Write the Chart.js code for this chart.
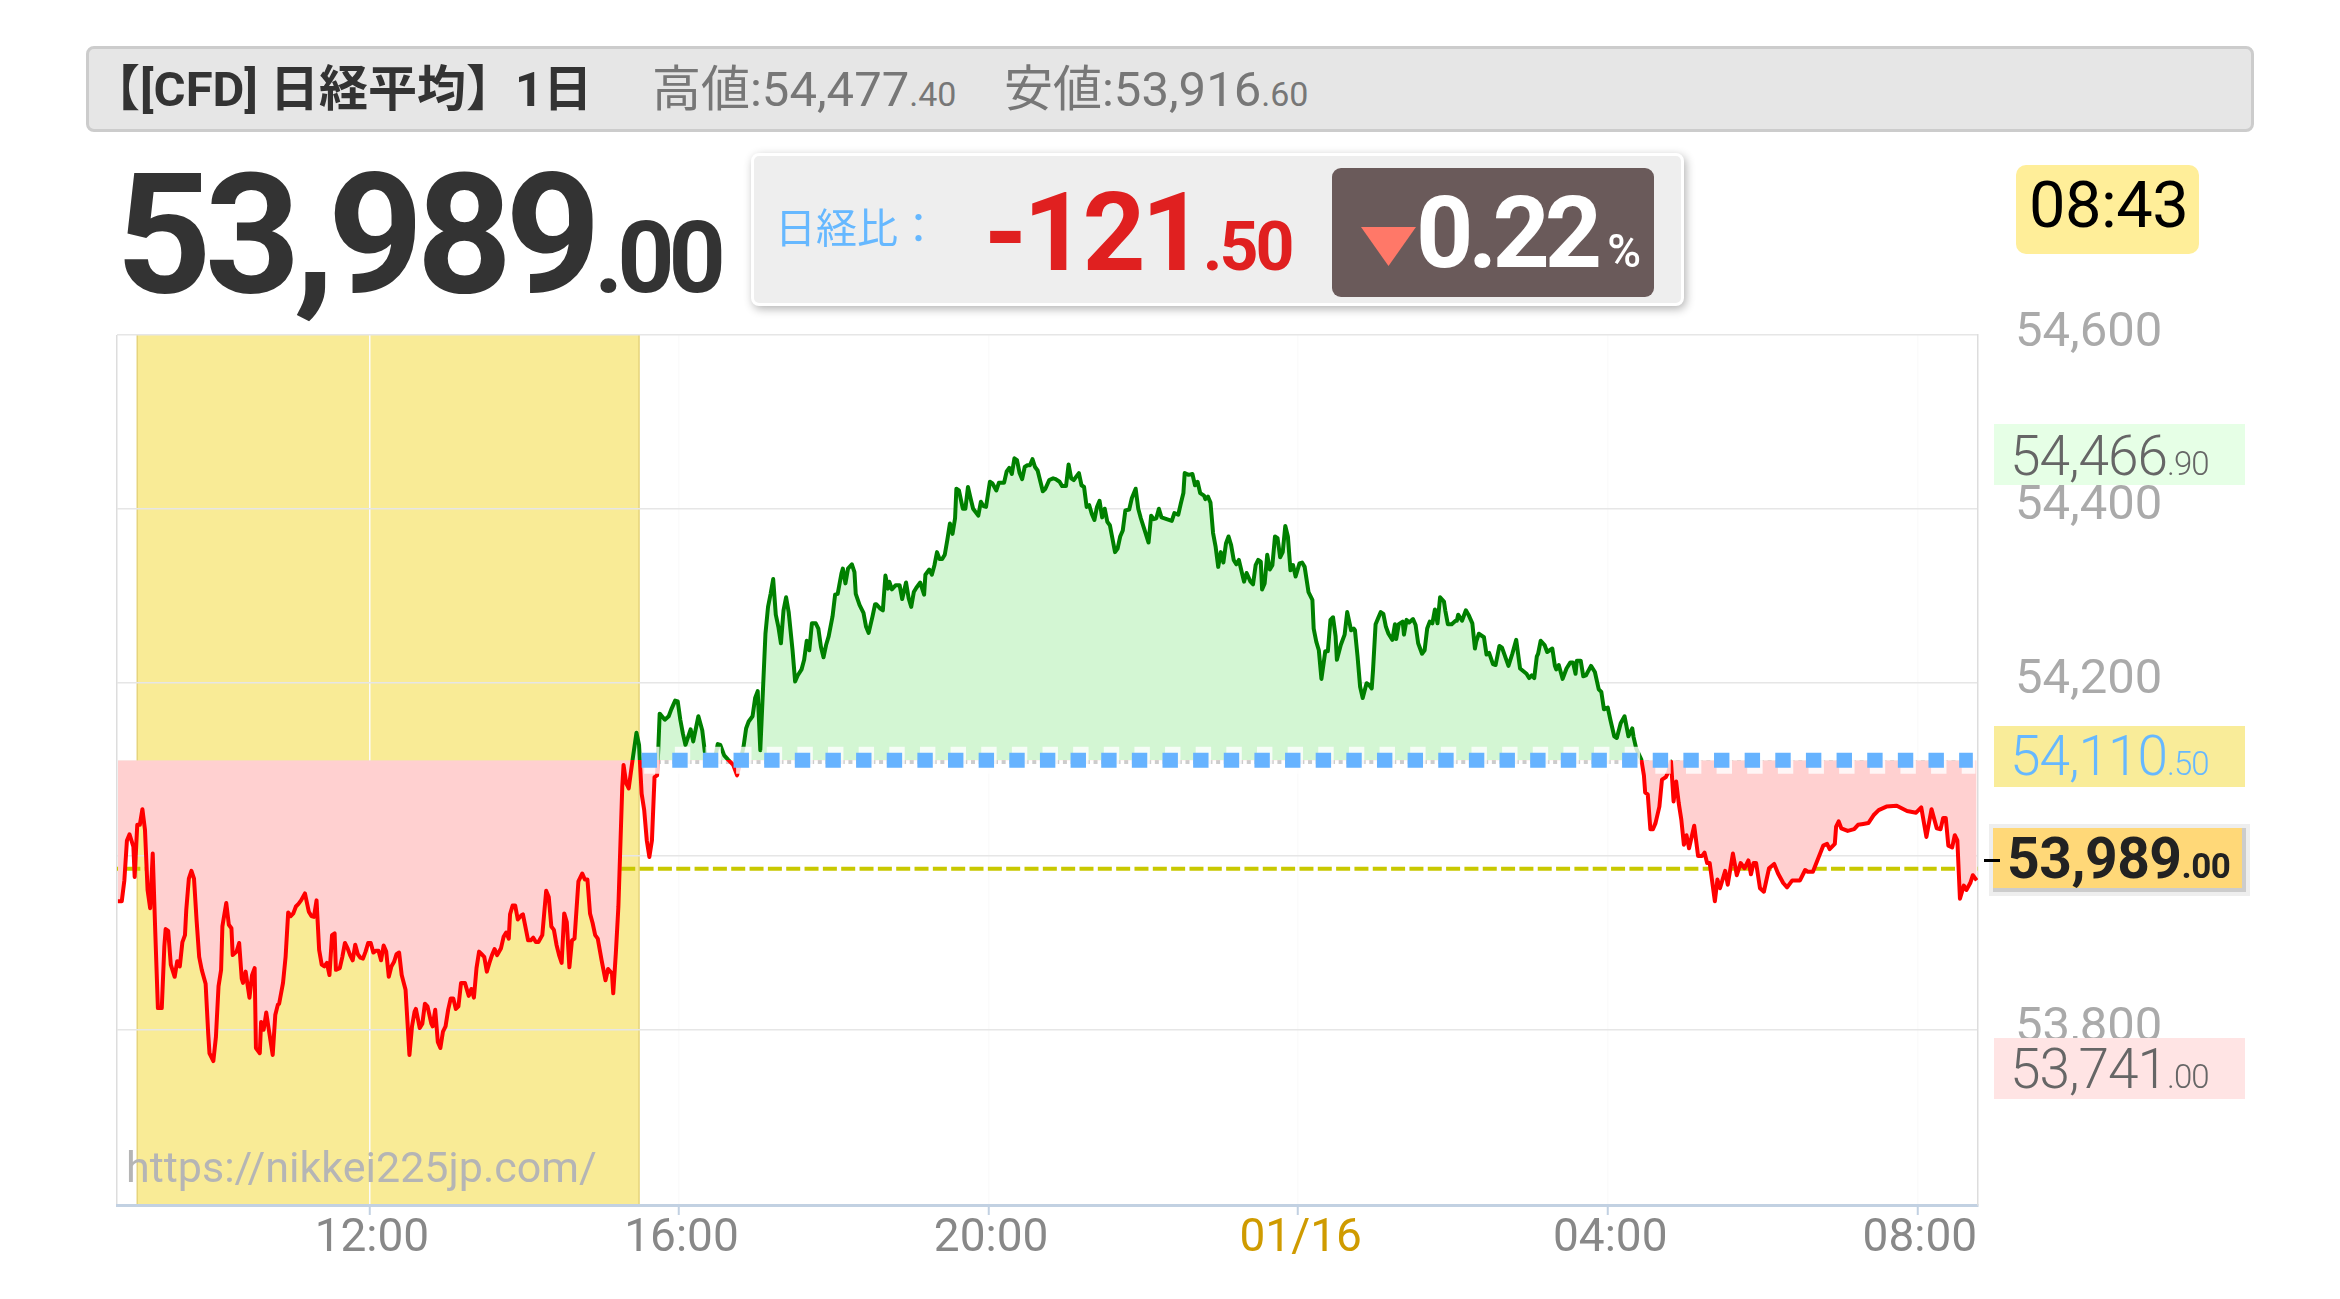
<!DOCTYPE html>
<html lang="ja">
<head>
<meta charset="utf-8">
<title>日経平均</title>
<script src="https://cdn.jsdelivr.net/npm/chart.js@4"></script>
<style>
    html, body { margin: 0; background: #fff; }
    body { width: 2340px; height: 1299px; position: relative; overflow: hidden; font-family: Roboto, "Noto Sans CJK JP", sans-serif; }
    canvas { position: absolute; left: 0; top: 0; }
    .abs { position: absolute; white-space: nowrap; line-height: 1; }
    #bar { left: 86px; top: 46px; width: 2162px; height: 80px; background: #e6e6e6; border: 3px solid #ccc; border-radius: 8px; }
    #title { left: 91px; top: 65px; font-size: 49px; font-weight: 700; color: #333; }
    .range { top: 65px; font-size: 49px; color: #777; }
    .range small { font-size: 34px; }
    #price { left: 116px; top: 152px; font-size: 167px; font-weight: 700; color: #333; letter-spacing: -7px; }
    #price small { font-size: 100px; letter-spacing: -6px; }
    #compare { left: 751px; top: 153px; width: 927px; height: 147px; background: #eee; border: 3px solid #fff; border-radius: 8px; box-shadow: 2px 3px 10px rgba(0, 0, 0, 0.3); }
    #compareLabel { left: 775px; top: 209px; font-size: 41px; color: #66b8ff; }
    #change { left: 984px; top: 178px; font-size: 110px; font-weight: 700; color: #e02020; letter-spacing: -4px; }
    #change small { font-size: 68px; letter-spacing: -3px; margin-left: 2px; }
    #pctBox { left: 1332px; top: 168px; width: 322px; height: 129px; background: #6a5a5a; border-radius: 9px; }
    #arrow { left: 1361px; top: 227px; width: 55px; height: 39px; background: #ff7868; clip-path: polygon(0 0, 100% 0, 50% 100%); }
    #pct { left: 1416px; top: 183px; font-size: 100px; font-weight: 700; color: #fff; letter-spacing: -5px; }
    #pct small { font-size: 46px; font-weight: 500; letter-spacing: 0; margin-left: 10px; }
    #clock { left: 2016px; top: 165px; width: 183px; height: 89px; background: #ffee99; border-radius: 10px; }
    #clockText { left: 2029px; top: 173px; font-size: 65px; color: #000; letter-spacing: -0.5px; }
    .tag { left: 1994px; width: 251px; height: 61px; }
    .tagText { left: 2010px; font-size: 55px; font-weight: 300; color: #666; letter-spacing: -1px; }
    .tagText small { font-size: 33px; letter-spacing: -1px; }
    #nowTag { left: 1993px; top: 828px; width: 249px; height: 60px; background: #ffd878; outline: 4px solid #eee; border-right: 4px solid #ccc; border-bottom: 4px solid #ccc; }
    #nowText { left: 2007px; top: 830px; font-size: 57px; font-weight: 700; color: #222; letter-spacing: -0.5px; }
    #nowText small { font-size: 35px; letter-spacing: -0.5px; }
    #nowTick { left: 1984px; top: 859px; width: 16px; height: 3px; background: #000; }
    #site { left: 126px; top: 1146px; font-size: 43px; color: #b5b5b5; }
</style>
</head>
<body>
<canvas id="chart" width="2340" height="1299"></canvas>
<div class="abs" id="bar"></div>
<div class="abs" id="title">【[CFD] 日経平均】1日</div>
<div class="abs range" style="left:652px">高値:54,477<small>.40</small></div>
<div class="abs range" style="left:1004px">安値:53,916<small>.60</small></div>
<div class="abs" id="price">53,989<small>.00</small></div>
<div class="abs" id="compare"></div>
<div class="abs" id="compareLabel">日経比：</div>
<div class="abs" id="change">-121<small>.50</small></div>
<div class="abs" id="pctBox"></div>
<div class="abs" id="arrow"></div>
<div class="abs" id="pct">0.22<small>%</small></div>
<div class="abs" id="clock"></div>
<div class="abs" id="clockText">08:43</div>
<div class="abs tag" style="top:424px;background:#e6ffe6"></div>
<div class="abs tagText" style="top:429px">54,466<small>.90</small></div>
<div class="abs tag" style="top:726px;background:#f9ec99"></div>
<div class="abs tagText" style="top:729px;color:#66b8ff">54,110<small>.50</small></div>
<div class="abs" id="nowTag"></div>
<div class="abs" id="nowTick"></div>
<div class="abs" id="nowText">53,989<small>.00</small></div>
<div class="abs tag" style="top:1038px;background:#ffe4e4"></div>
<div class="abs tagText" style="top:1042px">53,741<small>.00</small></div>
<div class="abs" id="site">https://nikkei225jp.com/</div>
<script>
/* globals Chart */

// minutes since 00:00 of the first day
const priceTimes = [
    525, 528, 530, 532, 534, 537, 538, 540, 542, 544, 546, 548,
    550, 552, 554, 556, 559, 561, 562, 564, 566, 569, 571, 573,
    575, 577, 578, 580, 582, 584, 586, 588, 590, 593, 595, 596,
    599, 601, 603, 605, 606, 609, 611, 613, 614, 617, 619, 621,
    622, 624, 627, 629, 631, 632, 635, 636, 638, 640, 642, 645,
    647, 649, 650, 653, 655, 657, 659, 661, 663, 665, 667, 670,
    673, 675, 677, 679, 681, 683, 685, 687, 689, 691, 693, 694,
    697, 699, 701, 703, 705, 707, 709, 711, 713, 715, 717, 719,
    721, 723, 725, 727, 729, 731, 733, 735, 737, 739, 741, 743,
    745, 748, 751, 753, 755, 756, 759, 761, 763, 765, 768, 769,
    771, 773, 775, 777, 779, 781, 783, 785, 787, 789, 791, 794,
    797, 799, 801, 803, 805, 807, 809, 811, 813, 815, 817, 819,
    822, 824, 826, 828, 829, 831, 833, 835, 838, 839, 843, 845,
    847, 849, 851, 854, 857, 859, 861, 863, 865, 867, 869, 871,
    873, 875, 877, 879, 882, 885, 887, 889, 891, 893, 895, 897,
    900, 903, 905, 908, 909, 911, 913, 916, 917, 919, 921, 924,
    927, 929, 931, 933, 935, 937, 939, 941, 943, 944, 945, 949,
    952, 954, 957, 959, 961, 963, 965, 967, 969, 971, 975, 978,
    980, 983, 987, 990, 992, 995, 998, 1002, 1005, 1007, 1010, 1012,
    1014, 1017, 1019, 1021, 1023, 1027, 1029, 1031, 1033, 1035, 1037, 1039,
    1041, 1043, 1045, 1048, 1050, 1052, 1055, 1057, 1059, 1061, 1063, 1066,
    1068, 1070, 1072, 1074, 1076, 1079, 1081, 1083, 1086, 1087, 1089, 1091,
    1094, 1096, 1097, 1100, 1103, 1105, 1107, 1110, 1112, 1113, 1116, 1118,
    1120, 1122, 1123, 1125, 1128, 1131, 1133, 1136, 1138, 1140, 1142, 1144,
    1147, 1150, 1151, 1154, 1156, 1158, 1160, 1162, 1164, 1166, 1168, 1170,
    1172, 1174, 1175, 1177, 1180, 1182, 1184, 1186, 1188, 1192, 1194, 1196,
    1198, 1201, 1203, 1206, 1208, 1212, 1214, 1216, 1218, 1220, 1222, 1224,
    1226, 1228, 1230, 1232, 1234, 1236, 1238, 1242, 1244, 1247, 1250, 1252,
    1255, 1257, 1260, 1262, 1264, 1266, 1270, 1272, 1274, 1276, 1278, 1280,
    1282, 1284, 1286, 1288, 1290, 1292, 1294, 1298, 1300, 1302, 1304, 1306,
    1309, 1311, 1314, 1316, 1318, 1321, 1324, 1326, 1328, 1330, 1332, 1334,
    1338, 1342, 1344, 1347, 1349, 1351, 1352, 1355, 1358, 1360, 1362, 1364,
    1367, 1368, 1370, 1372, 1374, 1376, 1378, 1380, 1382, 1384, 1386, 1388,
    1390, 1392, 1394, 1398, 1400, 1403, 1405, 1407, 1409, 1411, 1412, 1414,
    1416, 1418, 1420, 1422, 1424, 1426, 1428, 1430, 1432, 1434, 1436, 1438,
    1441, 1443, 1445, 1448, 1451, 1452, 1454, 1456, 1458, 1461, 1463, 1465,
    1467, 1469, 1470, 1473, 1476, 1478, 1481, 1483, 1484, 1486, 1488, 1490,
    1493, 1495, 1497, 1498, 1500, 1502, 1504, 1506, 1508, 1510, 1513, 1515,
    1516, 1518, 1521, 1522, 1524, 1526, 1529, 1531, 1533, 1536, 1538, 1540,
    1542, 1544, 1546, 1548, 1550, 1553, 1554, 1556, 1559, 1562, 1563, 1564,
    1567, 1570, 1572, 1575, 1577, 1578, 1580, 1584, 1586, 1588, 1591, 1593,
    1596, 1598, 1603, 1606, 1609, 1612, 1617, 1619, 1621, 1623, 1625, 1626,
    1628, 1631, 1633, 1637, 1639, 1640, 1642, 1645, 1648, 1651, 1653, 1655,
    1656, 1659, 1661, 1663, 1667, 1670, 1673, 1675, 1677, 1680, 1682, 1685,
    1687, 1690, 1693, 1696, 1699, 1700, 1702, 1706, 1708, 1709, 1711, 1713,
    1715, 1717, 1720, 1722, 1725, 1727, 1729, 1731, 1733, 1735, 1737, 1739,
    1741, 1743, 1747, 1750, 1753, 1755, 1757, 1759, 1763, 1765, 1767, 1771,
    1773, 1777, 1780, 1783, 1786, 1789, 1791, 1793, 1795, 1798, 1801, 1805,
    1809, 1812, 1816, 1819, 1823, 1829, 1833, 1835, 1839, 1843, 1847, 1850,
    1852, 1856, 1857, 1859, 1861, 1866, 1871, 1874, 1878, 1882, 1886, 1890,
    1896, 1904, 1912, 1919, 1923, 1927, 1931, 1935, 1938, 1940, 1942, 1944,
    1947, 1949, 1951, 1953, 1956, 1958, 1961, 1963, 1966
];
const priceValues = [
    53948, 53948, 53972, 54018, 54025, 54011, 53976, 54036, 54036, 54054, 54030, 53961,
    53940, 54003, 53911, 53825, 53825, 53896, 53916, 53914, 53875, 53861, 53879, 53873,
    53901, 53909, 53938, 53974, 53983, 53974, 53926, 53884, 53869, 53853, 53796, 53773,
    53764, 53792, 53850, 53869, 53919, 53946, 53921, 53917, 53886, 53890, 53900, 53859,
    53854, 53867, 53837, 53863, 53871, 53779, 53773, 53809, 53800, 53820, 53800, 53771,
    53817, 53829, 53830, 53854, 53884, 53935, 53931, 53934, 53942, 53945, 53949, 53957,
    53936, 53931, 53930, 53949, 53892, 53875, 53873, 53877, 53863, 53909, 53911, 53869,
    53871, 53884, 53900, 53894, 53886, 53880, 53898, 53887, 53883, 53882, 53890, 53900,
    53900, 53889, 53891, 53891, 53880, 53897, 53890, 53861, 53873, 53878, 53887, 53889,
    53863, 53846, 53771, 53804, 53821, 53824, 53802, 53807, 53830, 53827, 53807, 53804,
    53823, 53786, 53779, 53798, 53804, 53823, 53836, 53836, 53824, 53827, 53854, 53854,
    53839, 53847, 53837, 53871, 53890, 53887, 53884, 53867, 53877, 53886, 53893, 53886,
    53894, 53907, 53912, 53905, 53933, 53943, 53943, 53927, 53932, 53933, 53903, 53903,
    53906, 53901, 53901, 53909, 53960, 53953, 53919, 53915, 53898, 53886, 53877, 53934,
    53924, 53872, 53903, 53905, 53971, 53980, 53973, 53973, 53934, 53923, 53909, 53905,
    53880, 53857, 53870, 53865, 53842, 53888, 53942, 54080, 54105, 54084, 54078, 54111,
    54142, 54128, 54072, 54053, 54018, 53999, 54018, 54091, 54093, 54126, 54164, 54157,
    54161, 54169, 54179, 54178, 54157, 54141, 54128, 54137, 54146, 54132, 54161, 54145,
    54120, 54107, 54105, 54129, 54128, 54116, 54111, 54105, 54093, 54105, 54126, 54147,
    54155, 54161, 54182, 54190, 54122, 54256, 54287, 54302, 54319, 54278, 54264, 54245,
    54283, 54298, 54281, 54237, 54201, 54208, 54215, 54226, 54248, 54237, 54268, 54268,
    54262, 54241, 54229, 54243, 54253, 54276, 54301, 54302, 54326, 54331, 54314, 54331,
    54336, 54327, 54302, 54289, 54280, 54264, 54257, 54276, 54290, 54290, 54285, 54283,
    54323, 54308, 54316, 54307, 54312, 54312, 54296, 54315, 54297, 54287, 54304, 54309,
    54315, 54301, 54324, 54330, 54324, 54335, 54350, 54342, 54342, 54347, 54364, 54383,
    54371, 54389, 54423, 54421, 54400, 54400, 54425, 54412, 54400, 54392, 54408, 54403,
    54402, 54431, 54429, 54421, 54430, 54430, 54443, 54447, 54440, 54458, 54456, 54441,
    54434, 54448, 54450, 54450, 54457, 54448, 54444, 54420, 54423, 54433, 54435, 54434,
    54431, 54426, 54426, 54451, 54435, 54433, 54441, 54427, 54425, 54402, 54404, 54394,
    54387, 54402, 54409, 54390, 54400, 54385, 54381, 54350, 54354, 54368, 54375, 54398,
    54399, 54412, 54423, 54400, 54389, 54375, 54361, 54392, 54388, 54389, 54400, 54390,
    54388, 54386, 54395, 54393, 54406, 54418, 54441, 54439, 54440, 54427, 54431, 54418,
    54415, 54411, 54414, 54407, 54372, 54356, 54333, 54350, 54338, 54360, 54368, 54358,
    54341, 54336, 54341, 54316, 54326, 54316, 54313, 54335, 54341, 54339, 54307, 54314,
    54347, 54330, 54335, 54368, 54366, 54344, 54350, 54380, 54368, 54329, 54335, 54322,
    54337, 54338, 54333, 54304, 54295, 54262, 54247, 54237, 54204, 54236, 54236, 54272,
    54275, 54253, 54226, 54243, 54255, 54281, 54260, 54262, 54260, 54230, 54195, 54182,
    54199, 54197, 54193, 54214, 54267, 54274, 54281, 54279, 54264, 54256, 54249, 54267,
    54250, 54267, 54270, 54255, 54272, 54269, 54273, 54266, 54245, 54233, 54237, 54262,
    54270, 54268, 54284, 54268, 54298, 54293, 54283, 54267, 54267, 54271, 54271, 54278,
    54271, 54283, 54278, 54268, 54239, 54247, 54256, 54252, 54232, 54234, 54221, 54220,
    54242, 54240, 54219, 54233, 54249, 54216, 54210, 54205, 54208, 54205, 54230, 54233,
    54248, 54243, 54235, 54239, 54219, 54215, 54220, 54204, 54216, 54223, 54223, 54210,
    54225, 54225, 54207, 54208, 54219, 54212, 54192, 54189, 54169, 54171, 54157, 54138,
    54136, 54153, 54161, 54138, 54147, 54137, 54124, 54111, 54093, 54073, 54071, 54031,
    54031, 54038, 54057, 54088, 54091, 54097, 54109, 54063, 54086, 54061, 54042, 54013,
    54024, 54009, 54035, 54000, 54000, 54004, 53992, 53992, 53948, 53973, 53963, 53983,
    53967, 54003, 53978, 53992, 53986, 53995, 53979, 53992, 53992, 53963, 53959, 53986,
    53991, 53980, 53969, 53964, 53972, 53972, 53984, 53982, 53982, 53997, 54012, 54014,
    54008, 54014, 54034, 54040, 54032, 54029, 54031, 54036, 54037, 54038, 54047, 54053,
    54057, 54058, 54052, 54050, 54056, 54022, 54054, 54032, 54031, 54044, 54044, 54012,
    54010, 54024, 54018, 53951, 53966, 53961, 53969, 53978, 53972
];

const yTickValues = [53800, 54000, 54200, 54400, 54600];
const yTickLabels = ["53,800", "54,000", "54,200", "54,400", "54,600"];
const xTickValues = [720, 960, 1200, 1440, 1680, 1920];
const xTickLabels = ["12:00", "16:00", "20:00", "01/16", "04:00", "08:00"];

const previousClose = 54110.5;
const closeMarkerLevel = 54108.3;
const currentLevel = 53985.5;
const sessionTimes = [540, 929];
const timeRange = [524.3, 1967];
const priceRange = [53598.27, 54600];
const afterSessionTimes = [931, 1963];
const haloTimes = [933, 1965];

const levelLine = (times, level, style) => ({
    data: times.map((time) => ({ x: time, y: level })),
    pointRadius: 0,
    fill: false,
    borderCapStyle: "butt",
    ...style
});

// green above the previous close, red below, split exactly on the level
const priceStroke = (context) => {
    const { chart } = context;
    if (!chart.chartArea) {
        return "#008000";
    }
    const { top, bottom } = chart.chartArea;
    const split = (chart.scales.y.getPixelForValue(previousClose) - top) / (bottom - top);
    const gradient = chart.ctx.createLinearGradient(0, top, 0, bottom);
    gradient.addColorStop(0, "#008000");
    gradient.addColorStop(split, "#008000");
    gradient.addColorStop(split, "#ff0000");
    gradient.addColorStop(1, "#ff0000");
    return gradient;
};

const sessionBand = {
    id: "sessionBand",
    beforeDraw: (chart) => {
        const { ctx, chartArea, scales } = chart;
        const left = scales.x.getPixelForValue(sessionTimes[0]);
        const right = scales.x.getPixelForValue(sessionTimes[1]);
        const height = chartArea.bottom - chartArea.top;
        ctx.save();
        ctx.fillStyle = "#f9eb96";
        ctx.fillRect(left, chartArea.top, right - left, height);
        ctx.fillStyle = "#e6d47c";
        ctx.fillRect(left - 0.75, chartArea.top, 1.5, height);
        ctx.fillRect(right - 0.75, chartArea.top, 1.5, height);
        ctx.fillStyle = "#dddddd";
        ctx.fillRect(chartArea.left - 1, chartArea.top, 1.5, height);
        ctx.restore();
    }
};

new Chart(document.getElementById("chart"), {
    type: "line",
    plugins: [sessionBand],
    data: {
        datasets: [
            levelLine(afterSessionTimes, previousClose, {
                borderColor: "#66b3ff",
                borderWidth: 15,
                borderDash: [15.4, 15.24],
                order: 1
            }),
            levelLine(haloTimes, previousClose, {
                borderColor: "rgba(255, 255, 255, 0.8)",
                borderWidth: 27,
                borderDash: [15.4, 15.24],
                order: 2
            }),
            {
                data: priceTimes.map((time, index) => ({ x: time, y: priceValues[index] })),
                borderColor: priceStroke,
                borderWidth: 4,
                borderJoinStyle: "round",
                pointRadius: 0,
                tension: 0,
                fill: { value: previousClose, above: "#d3f6d3", below: "#ffd0d0" },
                order: 3
            },
            levelLine(afterSessionTimes, closeMarkerLevel, {
                borderColor: "#cccccc",
                borderWidth: 4,
                borderDash: [4, 3.66],
                order: 4
            }),
            levelLine(timeRange, currentLevel, {
                borderColor: "#c8c800",
                borderWidth: 4,
                borderDash: [14, 4.33],
                borderDashOffset: 9,
                order: 5
            })
        ]
    },
    options: {
        responsive: false,
        animation: false,
        parsing: false,
        normalized: true,
        layout: { padding: { left: 117, top: 335 } },
        plugins: { legend: { display: false }, tooltip: { enabled: false } },
        scales: {
            x: {
                type: "linear",
                min: timeRange[0],
                max: timeRange[1],
                afterBuildTicks: (axis) => { axis.ticks = xTickValues.map((value) => ({ value })); },
                afterFit: (axis) => { axis.height = 94; },
                border: { color: "#c2d1e2", width: 3 },
                grid: { color: "#fbfbfb", lineWidth: 1.5, tickColor: "#c2d1e2", tickWidth: 2, tickLength: 10 },
                ticks: {
                    autoSkip: false,
                    maxRotation: 0,
                    padding: -3,
                    labelOffset: 2.5,
                    font: { family: "Roboto", size: 46 },
                    color: (context) => (xTickLabels[context.index] === "01/16" ? "#cf9b00" : "#888888"),
                    callback: (value, index) => xTickLabels[index]
                }
            },
            y: {
                position: "right",
                min: priceRange[0],
                max: priceRange[1],
                afterBuildTicks: (axis) => { axis.ticks = yTickValues.map((value) => ({ value })); },
                afterFit: (axis) => { axis.width = 362; },
                border: { color: "#dddddd", width: 1.5 },
                grid: { color: "#e6e6e6", lineWidth: 1.5, drawTicks: false },
                ticks: {
                    padding: 37,
                    crossAlign: "near",
                    color: "#aaaaaa",
                    // the empty second line lifts the label above its gridline
                    font: { family: "Roboto", size: 49, lineHeight: "3px" },
                    callback: (value, index) => [yTickLabels[index], ""]
                }
            }
        }
    }
});
</script>
</body>
</html>
